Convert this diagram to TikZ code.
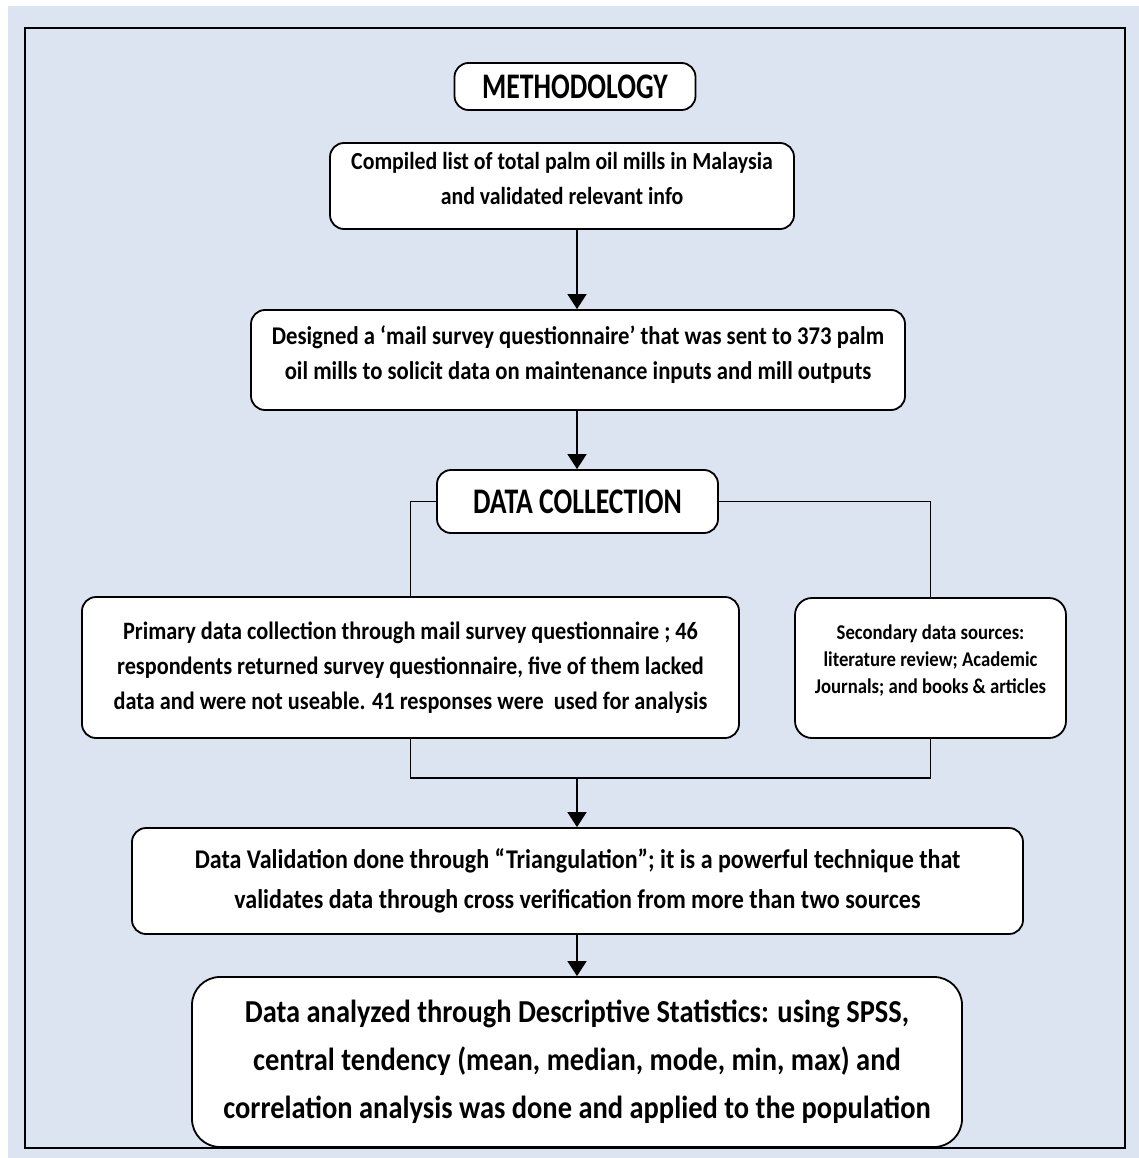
\documentclass[tikz,border=0pt]{standalone}
\usepackage{fontspec}
\setmainfont[FakeStretch=0.89]{Carlito}
\newfontfamily\headfont[FakeStretch=0.77]{Carlito}
\usetikzlibrary{arrows.meta}
\definecolor{bgblue}{RGB}{219,228,240}
\begin{document}
\begin{tikzpicture}[x=1pt,y=-1pt,
  box/.style={draw=black, line width=1.8pt, fill=white, rounded corners=14pt, align=center, inner sep=0pt},
  conn/.style={line width=1.5pt},
  arr/.style={conn, -{Triangle[width=19pt,length=15pt]}}]
\fill[white] (0,0) rectangle (1139,1158);
\fill[bgblue] (8,6) rectangle (1139,1158);
\useasboundingbox (0,0) rectangle (1139,1158);
\draw[line width=2pt] (25,28) rectangle (1125,1148);
\coordinate (ax) at (577,0);

\node[box, minimum width=241pt, minimum height=47pt, font=\headfont\bfseries\fontsize{36}{40}\selectfont] (meth) at (575,86.5) {METHODOLOGY};

\node[box, minimum width=464pt, minimum height=86pt, font=\bfseries\fontsize{24.5}{35}\selectfont] (compiled) at (562,186)
  {Compiled list of total palm oil mills in Malaysia\\and validated relevant info\\[-20pt]\mbox{}};

\node[box, minimum width=654pt, minimum height=100pt, font=\bfseries\fontsize{25.5}{35}\selectfont] (designed) at (578,360)
  {Designed a ‘mail survey questionnaire’ that was sent to 373 palm\\oil mills to solicit data on maintenance inputs and mill outputs\\[-20pt]\mbox{}};

\node[box, minimum width=281pt, minimum height=63pt, font=\headfont\bfseries\fontsize{36}{40}\selectfont] (datacoll) at (577.5,501.5) {DATA COLLECTION};

\node[box, minimum width=657pt, minimum height=141pt, font=\bfseries\fontsize{25}{35}\selectfont] (primary) at (410.5,667.5)
  {Primary data collection through mail survey questionnaire ; 46\\respondents returned survey questionnaire, five of them lacked\\data and were not useable. 41 responses were~ used for analysis};

\node[box, minimum width=271pt, minimum height=140pt, rounded corners=17pt, font=\bfseries\fontsize{21}{27}\selectfont] (secondary) at (930.5,668)
  {Secondary data sources:\\literature review; Academic\\Journals; and books \& articles\\[-10pt]\mbox{}};

\node[box, minimum width=891pt, minimum height=106pt, font=\bfseries\fontsize{27}{40}\selectfont] (validation) at (577.5,881)
  {Data Validation done through “Triangulation”; it is a powerful technique that\\validates data through cross verification from more than two sources};

\node[box, minimum width=770pt, minimum height=170pt, rounded corners=28pt, font=\bfseries\fontsize{32}{48}\selectfont] (final) at (577,1062)
  {Data analyzed through Descriptive Statistics: using SPSS,\\central tendency (mean, median, mode, min, max) and\\correlation analysis was done and applied to the population};

\draw[arr] (ax |- compiled.south) -- (ax |- designed.north);
\draw[arr] (ax |- designed.south) -- (ax |- datacoll.north);
\draw[conn] (datacoll.west) -| (primary.north);
\draw[conn] (datacoll.east) -| (secondary.north);
\path (primary.south) ++(0,39) coordinate (bl);
\draw[conn] (primary.south) -- (bl) -| (secondary.south);
\draw[arr] (ax |- bl) -- (ax |- validation.north);
\draw[arr] (ax |- validation.south) -- (ax |- final.north);
\end{tikzpicture}
\end{document}
